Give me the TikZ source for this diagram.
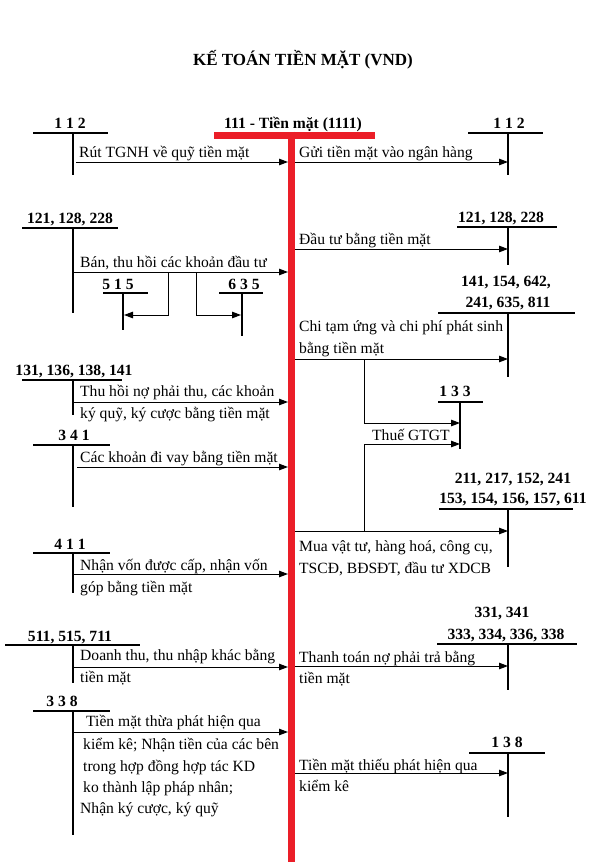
\documentclass[tikz,border=0pt]{standalone}
\usepackage{fontspec}
\setmainfont{Liberation Serif}
\usetikzlibrary{arrows.meta}
\definecolor{tred}{RGB}{235,30,40}
\tikzset{
  lab/.style={font=\bfseries\fontsize{15.6}{18}\selectfont, inner sep=0pt, anchor=base},
  ttl/.style={font=\bfseries\fontsize{17}{20}\selectfont, inner sep=0pt, anchor=base},
  txt/.style={font=\fontsize{15.6}{18}\selectfont, inner sep=0pt, anchor=base west},
  tline/.style={line width=1.3pt, black},
  arr/.style={line width=1pt, -{Triangle[length=9pt,width=6.5pt]}},
  link/.style={line width=1pt},
  redbar/.style={line width=7pt, draw=tred},
}
\begin{document}
\begin{tikzpicture}[x=1pt,y=-1pt]
\useasboundingbox (0,0) rectangle (600,862);
\node[ttl] (title) at (303,65) {KẾ TOÁN TIỀN MẶT (VND)};
% central account
\node[lab] (acct) at (293,128) {111 - Tiền mặt (1111)};
\coordinate (rl) at (214,135); \coordinate (rr) at (375,135);
\coordinate (rt) at (291.5,131.5); \coordinate (rb) at (291.5,862);
\draw[redbar] (rl) -- (rr);
\draw[redbar] (rt) -- (rb);

% ---------- LEFT SIDE ----------
% 112
\node[lab] (l112) at (70,128) {1 1 2};
\draw[tline] (33,133) -- (108,133); \draw[tline] (73,133) -- (73,175);
\coordinate (s1) at (76,162); \coordinate (e1) at (288,162);
\draw[arr] (s1) -- (e1);
\node[txt] (t1) at (79,157) {Rút TGNH về quỹ tiền mặt};

% 121, 128, 228
\node[lab] (l121) at (70,223) {121, 128, 228};
\draw[tline] (22,228) -- (118,228); \draw[tline] (73,228) -- (73,313);
\coordinate (s2) at (73,272); \coordinate (e2) at (288,272);
\draw[arr] (s2) -- (e2);
\node[txt] (t2) at (80,267) {Bán, thu hồi các khoản đầu tư};
% 515
\node[lab] (l515) at (118,289) {5 1 5};
\draw[tline] (103,293) -- (148,293); \draw[tline] (123,293) -- (123,330);
\coordinate (b515a) at (168,272); \coordinate (b515b) at (168,315); \coordinate (b515c) at (124,315);
\draw[arr] (b515a) -- (b515b) -- (b515c);
% 635
\node[lab] (l635) at (244,289) {6 3 5};
\draw[tline] (219,293) -- (263,293); \draw[tline] (242,293) -- (242,336);
\coordinate (b635a) at (196,272); \coordinate (b635b) at (196,315); \coordinate (b635c) at (241,315);
\draw[arr] (b635a) -- (b635b) -- (b635c);

% 131, 136, 138, 141
\node[lab] (l131) at (74,375) {131, 136, 138, 141};
\draw[tline] (22,380) -- (122,380); \draw[tline] (73,380) -- (73,415);
\coordinate (s3) at (73,402); \coordinate (e3) at (288,402);
\draw[arr] (s3) -- (e3);
\node[txt] (t3a) at (80,396) {Thu hồi nợ phải thu, các khoản};
\node[txt] (t3b) at (80,418) {ký quỹ, ký cược bằng tiền mặt};

% 341
\node[lab] (l341) at (74,440) {3 4 1};
\draw[tline] (33,445) -- (110,445); \draw[tline] (73,445) -- (73,507);
\coordinate (s4) at (77,467); \coordinate (e4) at (288,467);
\draw[arr] (s4) -- (e4);
\node[txt] (t4) at (80,462) {Các khoản đi vay bằng tiền mặt};

% 411
\node[lab] (l411) at (70,549) {4 1 1};
\draw[tline] (33,553) -- (110,553); \draw[tline] (73,553) -- (73,593);
\coordinate (s5) at (73,574); \coordinate (e5) at (288,574);
\draw[arr] (s5) -- (e5);
\node[txt] (t5a) at (80,570) {Nhận vốn được cấp, nhận vốn};
\node[txt] (t5b) at (80,592) {góp bằng tiền mặt};

% 511, 515, 711
\node[lab] (l511) at (70,641) {511, 515, 711};
\draw[tline] (5,645) -- (140,645); \draw[tline] (73,645) -- (73,683);
\coordinate (s6) at (73,667); \coordinate (e6) at (288,667);
\draw[arr] (s6) -- (e6);
\node[txt] (t6a) at (80,660) {Doanh thu, thu nhập khác bằng};
\node[txt] (t6b) at (80,682) {tiền mặt};

% 338
\node[lab] (l338) at (62,706) {3 3 8};
\draw[tline] (33,711) -- (110,711); \draw[tline] (73,711) -- (73,835);
\coordinate (s7) at (73,732); \coordinate (e7) at (288,732);
\draw[arr] (s7) -- (e7);
\node[txt] (t7a) at (86,726) {Tiền mặt thừa phát hiện qua};
\node[txt] (t7b) at (83,749) {kiểm kê; Nhận tiền của các bên};
\node[txt] (t7c) at (83,771) {trong hợp đồng hợp tác KD};
\node[txt] (t7d) at (83,792) {ko thành lập pháp nhân;};
\node[txt] (t7e) at (80,813) {Nhận ký cược, ký quỹ};

% ---------- RIGHT SIDE ----------
% 112
\node[lab] (r112) at (509,128) {1 1 2};
\draw[tline] (468,133) -- (543,133); \draw[tline] (508,133) -- (508,175);
\coordinate (u1) at (295,162); \coordinate (v1) at (508,162);
\draw[arr] (u1) -- (v1);
\node[txt] (w1) at (299,157) {Gửi tiền mặt vào ngân hàng};

% 121, 128, 228
\node[lab] (r121) at (501,222) {121, 128, 228};
\draw[tline] (457,227) -- (557,227); \draw[tline] (508,227) -- (508,265);
\coordinate (u2) at (295,249); \coordinate (v2) at (508,249);
\draw[arr] (u2) -- (v2);
\node[txt] (w2) at (299,244) {Đầu tư bằng tiền mặt};

% 141, 154, 642, 241, 635, 811
\node[lab] (r141a) at (506,286) {141, 154, 642,};
\node[lab] (r141b) at (508,307) {241, 635, 811};
\draw[tline] (438,313) -- (575,313); \draw[tline] (508,313) -- (508,377);
\coordinate (u3) at (295,359); \coordinate (v3) at (508,359);
\draw[arr] (u3) -- (v3);
\node[txt] (w3a) at (299,331) {Chi tạm ứng và chi phí phát sinh};
\node[txt] (w3b) at (299,353) {bằng tiền mặt};

% 133
\node[lab] (r133) at (455,396) {1 3 3};
\draw[tline] (438,402) -- (483,402); \draw[tline] (460,402) -- (460,449);
\coordinate (g1a) at (364,359); \coordinate (g1b) at (364,423); \coordinate (g1c) at (460,423);
\draw[arr] (g1a) -- (g1b) -- (g1c);
\coordinate (g2a) at (364,531); \coordinate (g2b) at (364,444); \coordinate (g2c) at (460,444);
\draw[arr] (g2a) -- (g2b) -- (g2c);
\node[txt] (wvat) at (372,440) {Thuế GTGT};

% 211 ...
\node[lab] (r211a) at (513,483) {211, 217, 152, 241};
\node[lab] (r211b) at (513,503) {153, 154, 156, 157, 611};
\draw[tline] (439,509) -- (573,509); \draw[tline] (508,509) -- (508,567);
\coordinate (u4) at (295,531); \coordinate (v4) at (508,531);
\draw[arr] (u4) -- (v4);
\node[txt] (w4a) at (299,551) {Mua vật tư, hàng hoá, công cụ,};
\node[txt] (w4b) at (299,573) {TSCĐ, BĐSĐT, đầu tư XDCB};

% 331 ...
\node[lab] (r331a) at (502,617) {331, 341};
\node[lab] (r331b) at (506,639) {333, 334, 336, 338};
\draw[tline] (437,644) -- (577,644); \draw[tline] (508,644) -- (508,690);
\coordinate (u5) at (295,666); \coordinate (v5) at (508,666);
\draw[arr] (u5) -- (v5);
\node[txt] (w5a) at (299,662) {Thanh toán nợ phải trả bằng};
\node[txt] (w5b) at (299,683) {tiền mặt};

% 138
\node[lab] (r138) at (507,747) {1 3 8};
\draw[tline] (469,753) -- (545,753); \draw[tline] (508,753) -- (508,817);
\coordinate (u6) at (295,773); \coordinate (v6) at (508,773);
\draw[arr] (u6) -- (v6);
\node[txt] (w6a) at (299,770) {Tiền mặt thiếu phát hiện qua};
\node[txt] (w6b) at (299,791) {kiểm kê};
\end{tikzpicture}
\end{document}
